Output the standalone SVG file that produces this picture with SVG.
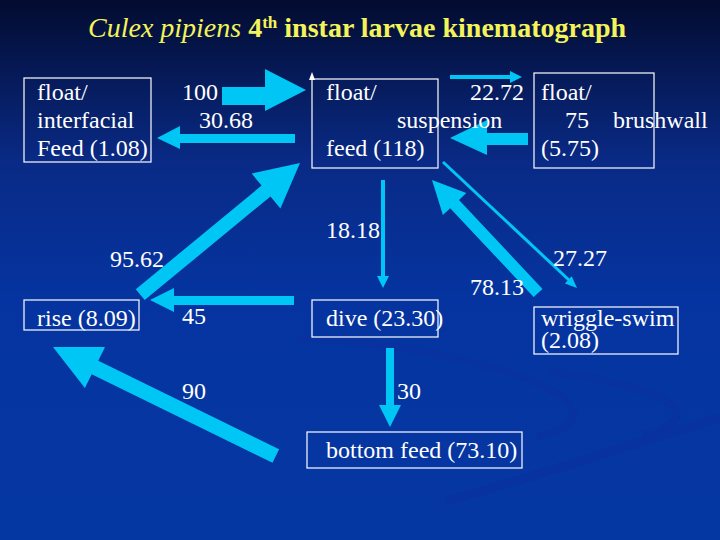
<svg xmlns="http://www.w3.org/2000/svg" width="720" height="540" viewBox="0 0 720 540">
<defs>
<linearGradient id="bg" x1="0" y1="0" x2="0" y2="1">
<stop offset="0" stop-color="#030c30"/>
<stop offset="0.3" stop-color="#092a86"/>
<stop offset="0.55" stop-color="#0534a0"/>
<stop offset="1" stop-color="#0537a3"/>
</linearGradient>
<style>
.t{font-family:'Times New Roman','Liberation Serif',serif;font-size:24px;fill:#ffffff}
.box{fill:none;stroke:#ffffff;stroke-width:1.2}
.a{fill:#00c6f6;stroke:none}
.ln{stroke:#00c6f6;fill:none}
.sw{fill:none;stroke:#0732a0;stroke-linecap:round}
</style>
</defs>
<rect width="720" height="540" fill="url(#bg)"/>
<path class="sw" stroke-width="7" d="M 300 338 C 440 345 560 380 572 408 C 578 422 560 432 540 436"/>
<path class="sw" stroke-width="7" d="M 552 372 C 620 380 676 398 677 412 C 678 422 665 430 646 434"/>
<path class="sw" stroke-width="9" d="M 720 418 C 640 440 560 470 450 500"/>
<text x="88" y="37" font-family="Times New Roman" style="font-family:'Times New Roman','Liberation Serif',serif" font-size="28" fill="#f4f45a"><tspan font-style="italic">Culex pipiens</tspan> <tspan font-weight="bold">4<tspan font-size="17" baseline-shift="super">th</tspan> instar larvae kinematograph</tspan></text>
<g id="connectors">
<polygon class="a" points="222,87 265,87 265,69 306,90 265,111 265,105 222,105"/>
<polygon class="a" points="295,134 180,134 180,126 157,138 180,149 180,143 295,143"/>
<line class="ln" x1="450" y1="77" x2="512" y2="77" stroke-width="4"/>
<polygon class="a" points="510,71 522,77 510,83"/>
<polygon class="a" points="528,133 487,133 487,120 450,138 487,155 487,145 528,145"/>
<line class="ln" x1="443" y1="162" x2="570" y2="281" stroke-width="3"/>
<polygon class="a" points="577,288 564.9,283.4 571.7,276.2"/>
<polygon class="a" points="432,180 442.9,215 450.2,208.2 533.7,297.1 542.5,288.9 459,200 466.3,193.1"/>
<polygon class="a" points="300,163 251.7,173.6 261.6,185.6 135.8,289.3 144.7,300.1 270.5,196.4 280.4,208.4"/>
<polygon class="a" points="53,347 84.9,388 91.7,374.3 272.5,462.7 279.1,449.2 98.3,360.8 105,347"/>
<line class="ln" x1="383" y1="180" x2="383" y2="278" stroke-width="4"/>
<polygon class="a" points="377,276 389,276 383,288"/>
<polygon class="a" points="386,348 394,348 394,405 401,405 390,427 379,405 386,405"/>
<polygon class="a" points="294,296 174,296 174,288 150,300 174,312 174,305 294,305"/>
<polygon fill="#ffffff" points="309,80 312,72 315,80"/>
</g>
<g id="labels">
<text class="t" x="182" y="100">100</text>
<text class="t" x="199" y="128">30.68</text>
<text class="t" x="470" y="100">22.72</text>
<text class="t" x="565" y="128">75</text>
<text class="t" x="326" y="238">18.18</text>
<text class="t" x="110" y="267">95.62</text>
<text class="t" x="553" y="266">27.27</text>
<text class="t" x="470" y="295">78.13</text>
<text class="t" x="182" y="324">45</text>
<text class="t" x="182" y="399">90</text>
<text class="t" x="397" y="399">30</text>
</g>
<g id="node-interfacial">
<rect class="box" x="24" y="78" width="127" height="84"/>
<text class="t" x="37" y="100">float/</text>
<text class="t" x="37" y="128">interfacial</text>
<text class="t" x="37" y="156">Feed (1.08)</text>
</g>
<g id="node-suspension">
<rect class="box" x="312" y="79" width="126" height="89"/>
<text class="t" x="326" y="100">float/</text>
<text class="t" x="397" y="128">suspension</text>
<text class="t" x="326" y="156">feed (118)</text>
</g>
<g id="node-brushwall">
<rect class="box" x="534" y="73" width="120" height="95"/>
<text class="t" x="541" y="100">float/</text>
<text class="t" x="613" y="128">brushwall</text>
<text class="t" x="541" y="156">(5.75)</text>
</g>
<g id="node-rise">
<rect class="box" x="24" y="300" width="115" height="30"/>
<text class="t" x="37" y="326">rise (8.09)</text>
</g>
<g id="node-dive">
<rect class="box" x="312" y="300" width="126" height="37"/>
<text class="t" x="326" y="326">dive (23.30)</text>
</g>
<g id="node-wriggle">
<rect class="box" x="534" y="307" width="144" height="47"/>
<text class="t" x="541" y="326">wriggle-swim</text>
<text class="t" x="541" y="348">(2.08)</text>
</g>
<g id="node-bottom">
<rect class="box" x="307" y="432" width="215" height="36"/>
<text class="t" x="326" y="458">bottom feed (73.10)</text>
</g>
</svg>
